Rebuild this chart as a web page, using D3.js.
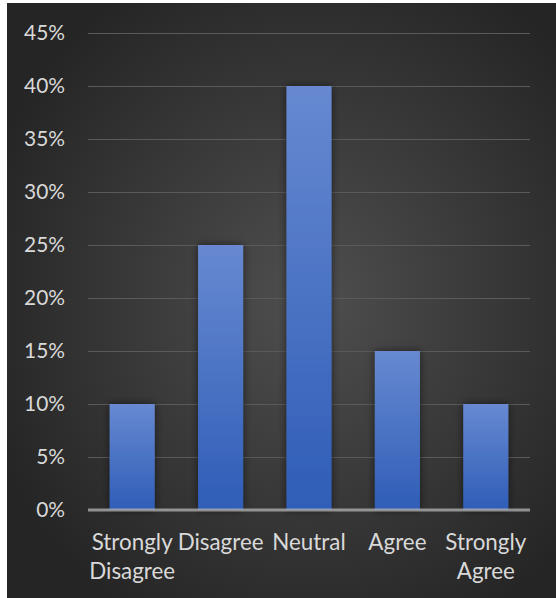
<!DOCTYPE html>
<html><head><meta charset="utf-8">
<script src="https://cdn.jsdelivr.net/npm/d3@7"></script>
<style>html,body{margin:0;padding:0;background:#fff;}svg{display:block;}</style>
</head><body>
<svg id="c" width="556" height="598"></svg>
<script>
const categories = ["Strongly Disagree", "Disagree", "Neutral", "Agree", "Strongly Agree"];
const values = [0.10, 0.25, 0.40, 0.15, 0.10];
const tickValues = [0, 0.05, 0.10, 0.15, 0.20, 0.25, 0.30, 0.35, 0.40, 0.45];
const labelLines = [["Strongly","Disagree"],["Disagree"],["Neutral"],["Agree"],["Strongly","Agree"]];

const svg = d3.select("#c");
const W = 556, H = 598;
const defs = svg.append("defs");
const bg = defs.append("radialGradient").attr("id","bg").attr("cx","55%").attr("cy","50%").attr("r","62%");
bg.append("stop").attr("offset","0%").attr("stop-color","#4f4f4f");
bg.append("stop").attr("offset","100%").attr("stop-color","#252525");
const bar = defs.append("linearGradient").attr("id","bar").attr("x1",0).attr("y1",0).attr("x2",0).attr("y2",1);
bar.append("stop").attr("offset","0%").attr("stop-color","#6789d1");
bar.append("stop").attr("offset","100%").attr("stop-color","#2f5db7");
const sh = defs.append("filter").attr("id","sh").attr("x","-50%").attr("y","-20%").attr("width","200%").attr("height","140%");
sh.append("feGaussianBlur").attr("in","SourceAlpha").attr("stdDeviation",4).attr("result","b");
sh.append("feComponentTransfer").attr("in","b").attr("result","o2").append("feFuncA").attr("type","linear").attr("slope",0.55);
const m = sh.append("feMerge");
m.append("feMergeNode").attr("in","o2");
m.append("feMergeNode").attr("in","SourceGraphic");

svg.append("rect").attr("x",7).attr("y",3).attr("width",W-7).attr("height",H-3).attr("fill","url(#bg)");

const x = d3.scaleBand().domain(categories).range([88,530]).paddingInner(0.49).paddingOuter(0.245);
const y = d3.scaleLinear().domain([0,0.45]).range([510,33]);

const font = "Lato, 'Open Sans', sans-serif";

// fit font size so text widths match the reference (Calibri-like) proportions
function fitSize(str, target) {
  const t = svg.append("text").attr("font-family",font).attr("font-size","20px").text(str);
  const w = t.node().getComputedTextLength();
  t.remove();
  return 20 * target / w;
}
const tickSize = fitSize("45%", 41);
const catSize = fitSize("Strongly", 81);

// gridlines
const gy = svg.append("g").attr("transform","translate(88,0)")
  .call(d3.axisLeft(y).tickValues(tickValues).tickSize(-442).tickFormat(d3.format(".0%")));
gy.select(".domain").remove();
gy.selectAll(".tick line").attr("stroke","#5a5a5a").attr("stroke-width",1.2)
  .filter(d=>d===0).remove();
gy.selectAll(".tick text").attr("x",-23).attr("fill","#d9d9d9").attr("font-size",tickSize+"px").attr("font-family",font);

// bars
svg.append("g").selectAll("rect").data(values).join("rect")
  .attr("x",(d,i)=>x(categories[i]))
  .attr("y",d=>y(d))
  .attr("width",x.bandwidth())
  .attr("height",d=>y(0)-y(d))
  .attr("fill","url(#bar)")
  .attr("filter","url(#sh)");

// zero axis
svg.append("line").attr("x1",88).attr("x2",530).attr("y1",y(0)).attr("y2",y(0))
  .attr("stroke","#b4b4b4").attr("stroke-opacity",0.75).attr("stroke-width",3);

// category labels
const lg = svg.append("g");
categories.forEach((c,i)=>{
  const t = lg.append("text").attr("text-anchor","middle").attr("fill","#d9d9d9")
    .attr("font-size",catSize+"px").attr("font-family",font);
  labelLines[i].forEach((ln,j)=>{
    t.append("tspan").attr("x",x(c)+x.bandwidth()/2).attr("y",550+j*29).text(ln);
  });
});
</script>
</body></html>
